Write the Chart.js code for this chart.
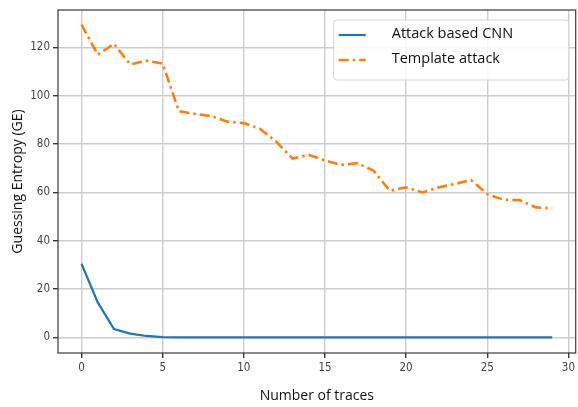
<!DOCTYPE html>
<html>
<head>
<meta charset="utf-8">
<script src="https://cdn.jsdelivr.net/npm/chart.js@4/dist/chart.umd.min.js"></script>
<style>
  html, body { margin: 0; padding: 0; background: #fff; }
  #wrap { width: 578px; height: 407px; }
</style>
</head>
<body>
<div id="wrap"><canvas id="grafica" width="578" height="407"></canvas></div>
<script>
// ── datos ──
const trazas = [];
for (let i = 0; i < 30; i++) trazas.push(i);

const geCNN = [30.5, 14.5, 3.5, 1.6, 0.6, 0.1, 0, 0, 0, 0,
               0, 0, 0, 0, 0, 0, 0, 0, 0, 0,
               0, 0, 0, 0, 0, 0, 0, 0, 0, 0];

const geTemplate = [129.5, 117, 121.5, 113, 114.5, 113.3, 93.6, 92.5, 91.6, 89.3,
                    88.7, 86.3, 81, 74, 75.6, 73.2, 71.4, 72.1, 69, 60.7,
                    62.1, 60, 62.1, 63.5, 65.1, 59.3, 57, 56.8, 53.8, 53.4];

const etiquetas = ['Attack based CNN', 'Template attack'];
const ticksX = [0, 5, 10, 15, 20, 25, 30];
const ticksY = [0, 20, 40, 60, 80, 100, 120];

const fuenteTicks = "'DejaVu Sans Condensed', 'DejaVu Sans', sans-serif";
const fuenteTexto = "'Open Sans', 'Noto Sans', sans-serif";

// marco completo del area (spines)
const marco = {
    id: 'marco',
    beforeDatasetsDraw(chart) {
        const a = chart.chartArea, ctx = chart.ctx;
        ctx.save();
        ctx.strokeStyle = '#3a3a3a';
        ctx.lineWidth = 1.2;
        ctx.strokeRect(a.left, a.top, a.right - a.left, a.bottom - a.top);
        ctx.restore();
    }
};

// leyenda dentro del area, arriba a la derecha
const leyenda = {
    id: 'leyenda',
    afterDraw(chart) {
        const ctx = chart.ctx, a = chart.chartArea;
        const x0 = a.right - 242, y0 = a.top + 10, w = 235, h = 60;
        ctx.save();
        ctx.fillStyle = 'rgba(255,255,255,0.85)';
        ctx.strokeStyle = '#d6d6d6';
        ctx.lineWidth = 1;
        ctx.beginPath();
        ctx.roundRect(x0, y0, w, h, 3);
        ctx.fill();
        ctx.stroke();
        ctx.font = '14.5px ' + fuenteTexto;
        ctx.textBaseline = 'middle';
        chart.data.datasets.forEach((ds, i) => {
            const y = y0 + 15 + i * 25;
            ctx.strokeStyle = ds.borderColor;
            ctx.lineWidth = ds.borderWidth;
            ctx.setLineDash(ds.borderDash || []);
            ctx.beginPath();
            ctx.moveTo(x0 + 5, y);
            ctx.lineTo(x0 + 32, y);
            ctx.stroke();
            ctx.setLineDash([]);
            ctx.fillStyle = '#111';
            ctx.fillText(ds.label, x0 + 58, y - 1);
        });
        ctx.restore();
    }
};

new Chart(document.getElementById('grafica'), {
    type: 'line',
    data: {
        datasets: [
            {
                label: etiquetas[0],
                data: trazas.map((t, i) => ({ x: t, y: geCNN[i] })),
                borderColor: '#1f77b4',
                borderWidth: 2.2,
                pointRadius: 0,
                tension: 0
            },
            {
                label: etiquetas[1],
                data: trazas.map((t, i) => ({ x: t, y: geTemplate[i] })),
                borderColor: '#ff7f0e',
                borderWidth: 2.6,
                borderDash: [10, 4, 2.5, 4],
                pointRadius: 0,
                tension: 0
            }
        ]
    },
    options: {
        responsive: false,
        animation: false,
        layout: { padding: { top: 10, right: 1, left: 0, bottom: 0 } },
        plugins: { legend: { display: false }, tooltip: { enabled: false } },
        scales: {
            x: {
                type: 'linear',
                min: -1.45,
                max: 30.45,
                afterBuildTicks: s => { s.ticks = ticksX.map(v => ({ value: v })); },
                afterFit: s => { s.height = 54; },
                border: { display: false },
                grid: { color: '#cdcdcd', lineWidth: 1.4, tickLength: 5, tickColor: '#3a3a3a' },
                ticks: { padding: 3, color: '#444', font: { family: fuenteTicks, size: 11.5 }, maxRotation: 0 },
                title: {
                    display: true,
                    text: 'Number of traces',
                    color: '#111',
                    font: { family: fuenteTexto, size: 14 },
                    padding: { top: 3, bottom: 3 }
                }
            },
            y: {
                min: -6.45,
                max: 135.5,
                afterBuildTicks: s => { s.ticks = ticksY.map(v => ({ value: v })); },
                afterFit: s => { s.width = 58; },
                border: { display: false },
                grid: { color: '#cdcdcd', lineWidth: 1.4, tickLength: 5, tickColor: '#3a3a3a' },
                ticks: { padding: 3, color: '#444', font: { family: fuenteTicks, size: 11.5 } },
                title: {
                    display: true,
                    text: 'Guessing Entropy (GE)',
                    color: '#111',
                    font: { family: fuenteTexto, size: 14 },
                    padding: { top: 10, bottom: 10 }
                }
            }
        }
    },
    plugins: [marco, leyenda]
});
</script>
</body>
</html>
